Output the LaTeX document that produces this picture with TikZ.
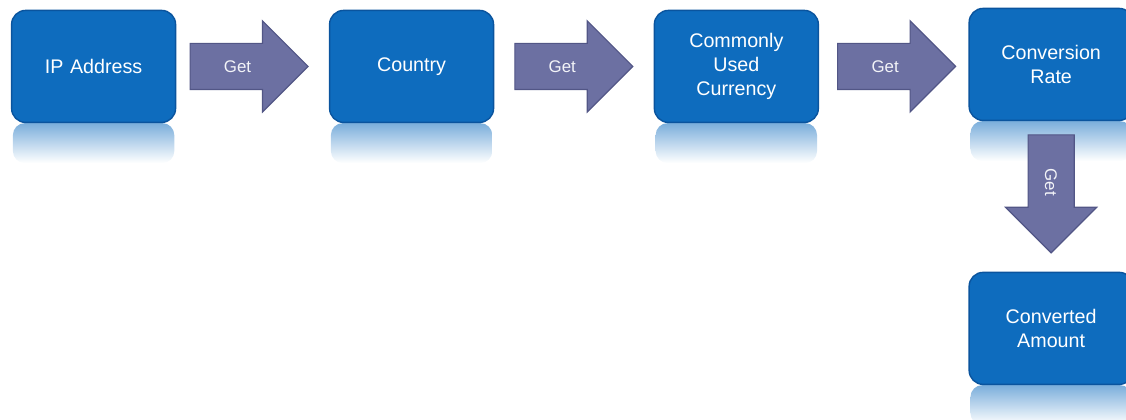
\documentclass[tikz,border=0pt]{standalone}
\usepackage{fontspec}
\setmainfont{Liberation Sans}
\usepackage{xcolor}
\usetikzlibrary{shapes.arrows, positioning, backgrounds}

\definecolor{boxblue}{RGB}{14,108,190}
\definecolor{boxedge}{RGB}{10,84,158}
\definecolor{getfill}{RGB}{108,112,162}
\definecolor{getedge}{RGB}{82,86,134}

\begin{document}
\begin{tikzpicture}[
    box/.style={rectangle, rounded corners=0.35cm, draw=boxedge, line width=1pt, fill=boxblue, text=white, minimum width=4.1cm, minimum height=2.8cm, text width=3.7cm, align=center, inner sep=0pt, font=\fontsize{14}{17.4}\selectfont},
    getarrow/.style={single arrow, draw=getedge, line width=0.8pt, fill=getfill, text=white!92!getfill, text height=0.3cm, text depth=0cm, inner xsep=0.2cm, inner ysep=0.4125cm, minimum height=2.95cm, single arrow head extend=0.5625cm, font=\fontsize{12}{14}\selectfont},
    reflect/.style={top color=boxblue!55, bottom color=white}
]
\useasboundingbox (0,0) rectangle (28.15,-10.475);

% Top row
\node[box] (ip) at (2.34,-1.66) {IP Address};
\node[getarrow, right=0.33cm of ip] (get1) {Get};
\node[box, right=0.5cm of get1] (country) {Country};
\node[getarrow, right=0.5cm of country] (get2) {Get};
\node[box, right=0.5cm of get2] (currency) {Commonly\\Used\\Currency};
\node[getarrow, right=0.45cm of currency] (get3) {Get};
\node[box, right=0.3cm of get3, yshift=0.05cm] (rate) {Conversion\\Rate};

% Down to the result
\node[getarrow, rotate=-90, anchor=tail] (get4) at ([yshift=-0.33cm]rate.south) {Get};
\node[box, below=0.45cm of get4.tip] (amount) {Converted\\Amount};

% Reflections
\begin{scope}[on background layer]
\foreach \n in {ip,country,currency,rate,amount}
  \shade[reflect, rounded corners=0.3cm] ([xshift=0.05cm]\n.south west) rectangle ([xshift=-0.05cm,yshift=-1cm]\n.south east);
\end{scope}

\end{tikzpicture}
\end{document}
